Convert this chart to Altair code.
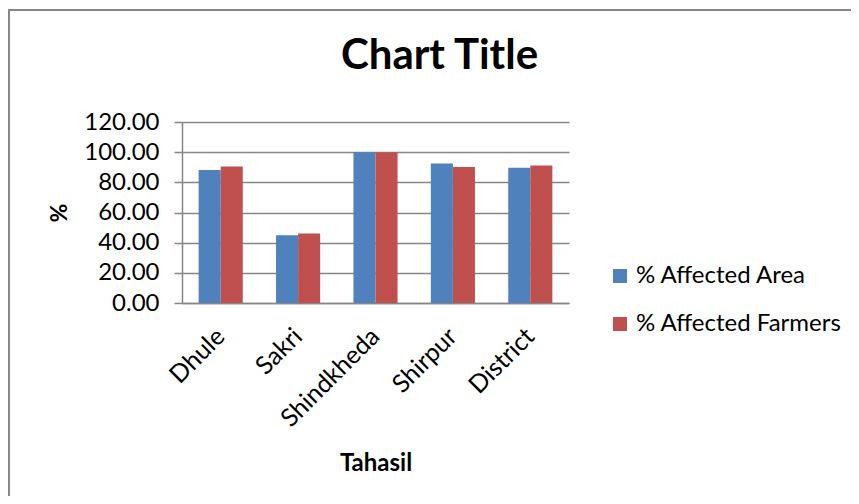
import altair as alt
import pandas as pd

tahasil = ["Dhule", "Sakri", "Shindkheda", "Shirpur", "District"]
affected_area = [88.1, 45.0, 100.0, 92.5, 89.6]
affected_farmers = [90.5, 46.1, 100.0, 90.1, 91.1]
series = ["% Affected Area", "% Affected Farmers"]
colors = ["#4F81BD", "#C0504D"]
y_ticks = [0, 20, 40, 60, 80, 100, 120]

rows = []
for i, t in enumerate(tahasil):
    rows.append({"Tahasil": t, "Series": series[0], "Value": affected_area[i]})
    rows.append({"Tahasil": t, "Series": series[1], "Value": affected_farmers[i]})
df = pd.DataFrame(rows)

FONT = "Lato"
GRAY = "#868686"

bars = alt.Chart(df).mark_bar().encode(
    x=alt.X("Tahasil:N", sort=tahasil,
            scale=alt.Scale(paddingInner=0.43, paddingOuter=0.215),
            axis=alt.Axis(title="Tahasil", labelAngle=-45, labelAlign="right",
                          labelBaseline="middle", labelPadding=29, ticks=False,
                          domainColor=GRAY, domainWidth=1.5,
                          labelFont=FONT, labelFontSize=25, labelColor="#000000",
                          labelLimit=300,
                          titleFont=FONT, titleFontSize=24, titleFontWeight="bold",
                          titleColor="#000000", titlePadding=20)),
    xOffset=alt.XOffset("Series:N", sort=series, scale=alt.Scale(paddingInner=0, paddingOuter=0)),
    y=alt.Y("Value:Q", scale=alt.Scale(domain=[0, 120], nice=False),
            axis=alt.Axis(title="%", values=y_ticks, format=".2f",
                          tickSize=8, tickColor=GRAY, tickWidth=1.5,
                          domainColor=GRAY, domainWidth=1.5,
                          gridColor=GRAY, gridWidth=1.5,
                          labelFont=FONT, labelFontSize=24, labelColor="#000000",
                          labelPadding=15,
                          titleFont=FONT, titleFontSize=23, titleFontWeight="bold",
                          titleColor="#000000", titlePadding=12)),
    color=alt.Color("Series:N", sort=series,
                    scale=alt.Scale(domain=series, range=colors),
                    legend=alt.Legend(title=None, orient="none", legendX=426, legendY=142,
                                      symbolType="square", symbolSize=196,
                                      symbolStrokeWidth=0,
                                      labelFont=FONT, labelFontSize=24, labelColor="#000000",
                                      labelLimit=400,
                                      labelOffset=4, rowPadding=24)),
)

border_top = alt.Chart(pd.DataFrame({"a": [0]})).mark_rule(stroke=GRAY, strokeWidth=2).encode(
    x=alt.value(-173), x2=alt.value(700), y=alt.value(-112)
)
border_left = alt.Chart(pd.DataFrame({"a": [0]})).mark_rule(stroke=GRAY, strokeWidth=2).encode(
    x=alt.value(-173), y=alt.value(-113), y2=alt.value(400)
)

chart = alt.layer(border_top, border_left, bars).properties(
    width=387, height=181,
    autosize=alt.AutoSizeParams(type="none"),
    padding={"left": 174, "top": 114, "right": 282, "bottom": 193},
    title=alt.TitleParams("Chart Title", font=FONT, fontSize=42, fontWeight="bold",
                          color="#000000", anchor="middle", dx=64, offset=-70),
).configure_view(stroke=None).configure_axisX(grid=False)

chart.save("out.html", embed_options={"renderer": "svg", "actions": False})
